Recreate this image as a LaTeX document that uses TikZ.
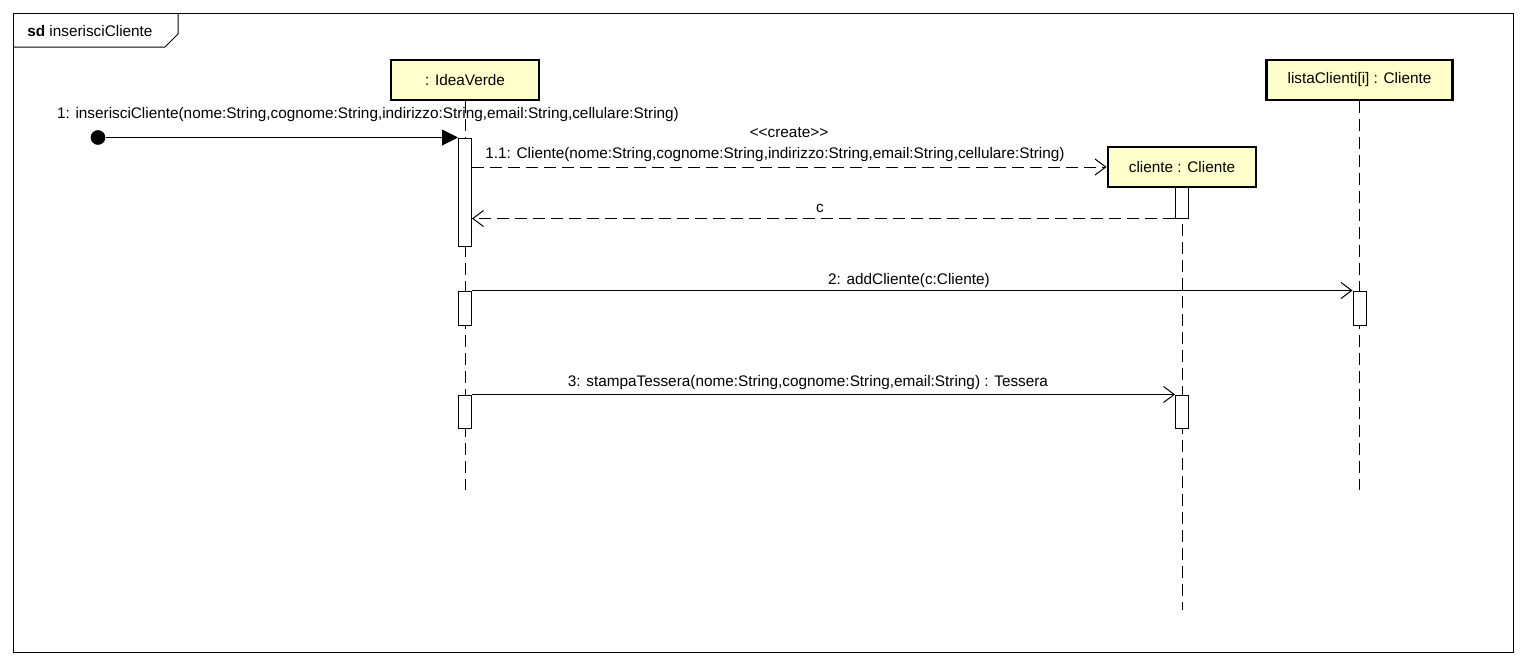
\documentclass[tikz,border=0pt]{standalone}
\usepackage{fontspec}
\setmainfont{Liberation Sans}
\usetikzlibrary{arrows.meta}
\definecolor{objfill}{HTML}{FFFFCC}
\begin{document}
\begin{tikzpicture}[x=0.75pt,y=-0.75pt,
  font=\fontsize{11.5}{13}\selectfont,
  objbox/.style={draw, line width=2.2pt, fill=objfill, inner sep=0pt, minimum height=30pt},
  actbar/.style={draw, fill=white, line width=0.75pt, inner sep=0pt, minimum width=9.75pt},
  lifeline/.style={line width=0.75pt, dash pattern=on 9pt off 4.5pt},
  syncmsg/.style={line width=0.75pt, -{Straight Barb[length=8pt,width=12pt,line width=0.75pt]}},
  dashmsg/.style={syncmsg, dash pattern=on 9pt off 4.5pt},
  lbl/.style={inner sep=0pt}
]
\useasboundingbox (0,0) rectangle (1525,665);
% frame
\draw[line width=0.75pt] (13,13) rectangle (1513,652);
\draw[line width=0.75pt] (13,47) -- (165,47) -- (178,34) -- (178,13);
\node[lbl, anchor=west] (title) at (27,31) {\textbf{sd} inserisciCliente};

% objects
\node[objbox, minimum width=111pt] (iv) at (465,80) {: IdeaVerde};
\node[objbox, minimum width=139pt] (lc) at (1359.5,80) {listaClienti[i] : Cliente};
\node[objbox, minimum width=111pt] (cl) at (1182,167) {cliente : Cliente};

% lifeline ends
\coordinate (ivend) at (465,490);
\coordinate (lcend) at (1359.5,490);
\coordinate (clend) at (1182,610);
\draw[lifeline] (iv.south) -- (ivend);
\draw[lifeline] (lc.south) -- (lcend);
\draw[lifeline] (cl.south) -- (clend);

% activations
\node[actbar, minimum height=81pt] (a1) at (465,192) {};
\node[actbar, minimum height=25.5pt] (a2) at (465,308) {};
\node[actbar, minimum height=24.75pt] (a3) at (465,411.5) {};
\node[actbar, minimum height=23.25pt] (c1) at (1182,202.5) {};
\node[actbar, minimum height=24.75pt] (c2) at (1182,411.5) {};
\node[actbar, minimum height=25.5pt] (l1) at (1359.5,308) {};

% found message
\node[circle, fill=black, inner sep=0pt, minimum size=11pt] (start) at (98,137.5) {};
\draw[line width=0.75pt, -{Triangle[length=12pt,width=12pt]}] (start) -- (start -| a1.west);
\node[lbl] (m1) at (368,115) {1: inserisciCliente(nome:String,cognome:String,indirizzo:String,email:String,cellulare:String)};

% create
\draw[dashmsg] (a1.east |- cl.west) -- (cl.west);
\node[lbl] (m11s) at (789,133) {<{}<create>{}>};
\node[lbl] (m11) at (775,155) {1.1: Cliente(nome:String,cognome:String,indirizzo:String,email:String,cellulare:String)};

% return
\draw[dashmsg] (c1.south west) -- (a1.east |- c1.south);
\node[lbl] (mc) at (820,208) {c};

% message 2
\draw[syncmsg] (a2.north east) -- (l1.north west);
\node[lbl] (m2) at (909,281) {2: addCliente(c:Cliente)};

% message 3
\draw[syncmsg] (a3.north east) -- (c2.north west);
\node[lbl] (m3) at (808,383) {3: stampaTessera(nome:String,cognome:String,email:String) : Tessera};
\end{tikzpicture}
\end{document}
